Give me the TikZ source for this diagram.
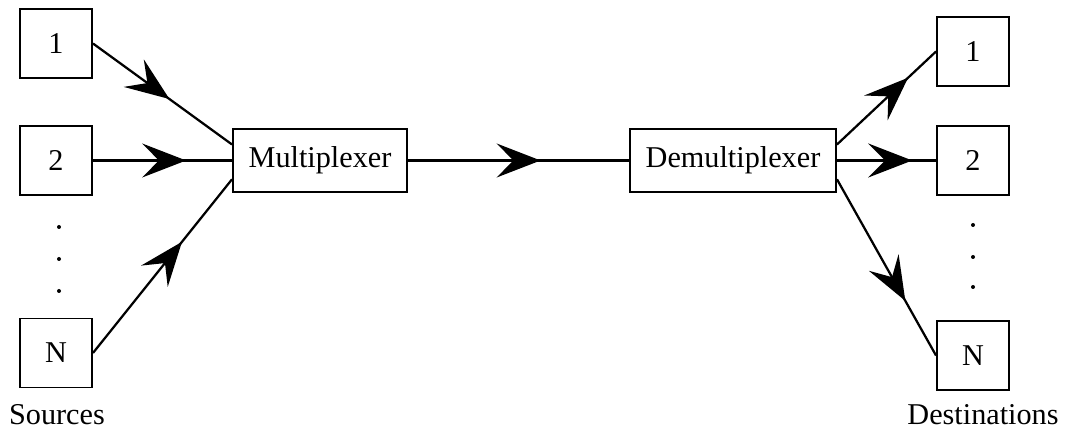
\documentclass[tikz,border=0pt]{standalone}
\usepackage{fontspec}
\setmainfont{Liberation Serif}
\usetikzlibrary{arrows.meta,decorations.markings}

\tikzset{
  box/.style={draw, line width=1.4pt, minimum width=1.8cm, minimum height=1.725cm, inner sep=0pt},
  unit/.style={draw, line width=1.4pt, minimum height=1.575cm, inner sep=0pt},
  flow/.style={line width=1.6pt, postaction={decorate},
    decoration={markings, mark=at position #1 with {\arrow{Stealth[length=1.1cm,width=0.85cm,inset=0.42cm]}}}},
}

\begin{document}
\begin{tikzpicture}[font=\fontsize{21.5}{26}\selectfont]

  \useasboundingbox (0,0) rectangle (26.625,10.8);

  % Sources on the left
  \node[box] (s1) at (1.4,9.7125) {1};
  \node[box] (s2) at (1.4,6.7875) {2};
  \node[box] (sn) at (1.4,1.975) {N};
  \foreach \y in {5.125,4.325,3.525}
    \fill (1.475,\y) circle (0.05);
  \node[anchor=base] (src) at (1.425,0.2) {Sources};

  % The two units in the middle
  \node[unit, minimum width=4.35cm] (mux) at (8.0,6.7875) {Multiplexer};
  \node[unit, minimum width=5.15cm] (demux) at (18.325,6.7875) {Demultiplexer};

  % Destinations on the right
  \node[box] (d1) at (24.325,9.5125) {1};
  \node[box] (d2) at (24.325,6.7875) {2};
  \node[box] (dn) at (24.325,1.9125) {N};
  \foreach \y in {5.175,4.375,3.625}
    \fill (24.325,\y) circle (0.05);
  \node[anchor=base] (dst) at (24.575,0.2) {Destinations};

  % Sources into the multiplexer
  \draw[flow=0.55] (s1.east) -- ([yshift=0.4cm]mux.west);
  \draw[flow=0.67] (s2.east) -- (mux.west);
  \draw[flow=0.64] (sn.east) -- ([yshift=-0.47cm]mux.west);

  % Shared link
  \draw[flow=0.6] (mux.east) -- (demux.west);

  % Demultiplexer out to the destinations
  \draw[flow=0.72] ([yshift=0.4cm]demux.east) -- (d1.west);
  \draw[flow=0.76] (demux.east) -- (d2.west);
  \draw[flow=0.69] ([yshift=-0.47cm]demux.east) -- (dn.west);

\end{tikzpicture}
\end{document}
